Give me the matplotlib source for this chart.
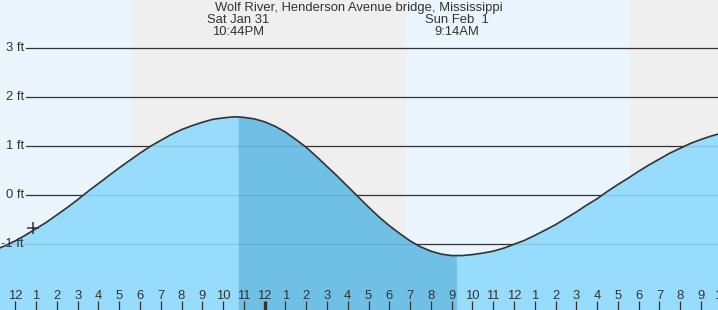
import matplotlib
matplotlib.use("Agg")
import matplotlib.pyplot as plt
import matplotlib.transforms as mtransforms

# hours after noon, Sat Jan 31 (tide heights, ft)
times = [-1, -0.5, 0, 0.5, 1, 1.5, 2, 2.5, 3, 3.5, 4, 4.5, 5, 5.5, 6, 6.5,
         7, 7.5, 8, 8.5, 9, 9.5, 10, 10.5, 10.73, 11, 11.5, 12, 12.5, 13,
         13.5, 14, 14.5, 15, 15.5, 16, 16.5, 17, 17.5, 18, 18.5, 19, 19.5,
         20, 20.5, 21, 21.23, 21.5, 22, 22.5, 23, 23.5, 24, 24.5, 25, 25.5,
         26, 26.5, 27, 27.5, 28, 28.5, 29, 29.5, 30, 30.5, 31, 31.5, 32,
         32.5, 33, 33.5, 34]
heights = [-1.12, -1.03, -0.93, -0.81, -0.68, -0.55, -0.40, -0.25, -0.09,
           0.08, 0.24, 0.40, 0.56, 0.71, 0.86, 1.00, 1.12, 1.24, 1.34, 1.42,
           1.49, 1.55, 1.58, 1.60, 1.60, 1.59, 1.56, 1.50, 1.41, 1.29, 1.14,
           0.98, 0.79, 0.59, 0.39, 0.18, -0.03, -0.24, -0.44, -0.62, -0.78,
           -0.93, -1.05, -1.14, -1.20, -1.23, -1.23, -1.23, -1.21, -1.18,
           -1.14, -1.08, -1.00, -0.92, -0.82, -0.71, -0.60, -0.47, -0.34,
           -0.20, -0.07, 0.08, 0.22, 0.35, 0.49, 0.62, 0.74, 0.86, 0.96,
           1.06, 1.14, 1.21, 1.27]

high_time, low_time = 10.73, 21.23
night_spans = [(5.55, 18.8), (29.58, 40)]
now_time, now_height = 0.85, -0.66

gridlines = [3, 2, 1, 0, -1]
hour_ticks = list(range(0, 35))
midnight = 12

title = "Wolf River, Henderson Avenue bridge, Mississippi"
extremes = [(high_time, "Sat Jan 31\n10:44PM"), (low_time, "Sun Feb  1\n9:14AM")]

txt = "#333333"
font = ["Liberation Sans", "DejaVu Sans"]
fs = 9.4

fig = plt.figure(figsize=(7.18, 3.10), dpi=100)
ax = fig.add_axes([0, 0, 1, 1])
ax.set_xlim(-0.736, 33.82)
ax.set_ylim(-2.341, 3.986)
ax.axis("off")
ax.add_patch(plt.Rectangle((0, 0), 1, 1, transform=ax.transAxes,
                           color="#ebf5fe", zorder=0))
for s, e in night_spans:
    ax.axvspan(s, e, color="#efefef", zorder=0.5, lw=0)

ymin = -2.341
light = ax.fill_between(times, heights, ymin, color="#97dcfd", lw=0, zorder=2)
i0, i1 = times.index(high_time), times.index(low_time)
ax.fill_between(times[i0:i1 + 1], heights[i0:i1 + 1], ymin, color="#70c0e5",
                lw=0, zorder=2.1)

clip = light.get_paths()[0]
for g in gridlines:
    ax.axhline(g, xmin=26 / 718, xmax=1, color="#333333", lw=0.9, zorder=1)
    # faint continuation of the grid inside the water
    faint = ax.axhline(g, color="black", alpha=0.1, lw=0.9, zorder=2.5)
    faint.set_clip_path(clip, ax.transData)
    ax.text(-0.736 + 24 / 20.78, g, f"{g} ft", ha="right", va="center",
            fontsize=fs, color=txt, family=font, zorder=3)

ax.plot(times, heights, color="#333333", lw=1.2, zorder=4)
ax.plot(now_time, now_height, marker="+", ms=9, mew=1.1, color="#333333", zorder=5)

# hour ticks along the bottom
trans = mtransforms.blended_transform_factory(ax.transData, ax.transAxes)
for h in hour_ticks:
    lab = str(h % 12 if h % 12 else 12)
    ax.text(h, 0.045, lab, transform=trans, ha="center", va="center",
            fontsize=fs, color=txt, family=font, zorder=6)
    ax.plot([h, h], [0, 0.029], transform=trans, color="#333333",
            lw=2.4 if h == midnight else 0.9, solid_capstyle="butt", zorder=6)

ax.text(0.5, 0.973, title, transform=ax.transAxes, ha="center", va="center",
        fontsize=fs, color=txt, family=font)
for t, lab in extremes:
    ax.text(t, 0.915, lab, transform=trans, ha="center", va="center",
            fontsize=fs, color=txt, family=font, linespacing=1.0)

fig.savefig("out.png", dpi=100)
